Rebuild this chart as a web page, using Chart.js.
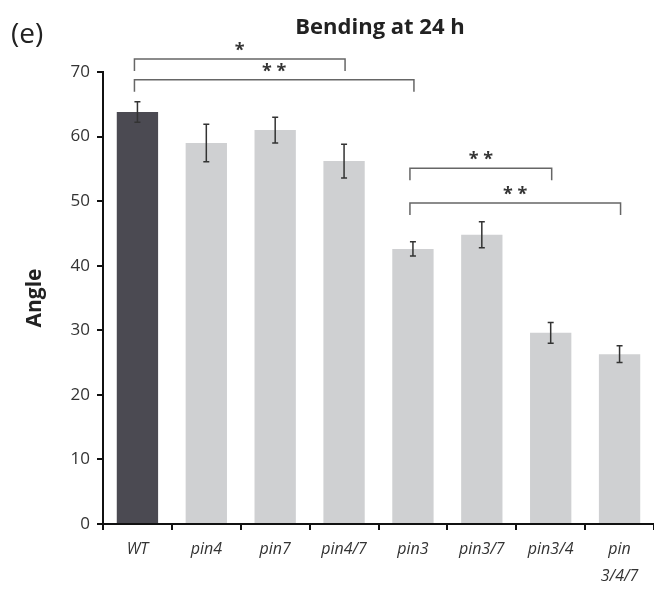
<!DOCTYPE html>
<html>
<head>
<meta charset="utf-8">
<script src="https://cdn.jsdelivr.net/npm/chart.js@4.4.1/dist/chart.umd.min.js"></script>
<style>
  html, body { margin: 0; padding: 0; background: #fff; }
  #wrap { width: 654px; height: 593px; }
</style>
</head>
<body>
<div id="wrap"><canvas id="myChart" width="654" height="593"></canvas></div>
<script>
// data
var genotypes = ['WT', 'pin4', 'pin7', 'pin4/7', 'pin3', 'pin3/7', 'pin3/4', ['pin', '3/4/7']];
var angles = [63.8, 59.0, 61.0, 56.2, 42.6, 44.8, 29.6, 26.3];
var angleErr = [1.6, 2.9, 2.0, 2.6, 1.1, 2.0, 1.6, 1.3];
var yTicks = [0, 10, 20, 30, 40, 50, 60, 70];

// significance brackets (category index from/to, level in angle units)
var bracketFrom = [0, 0, 4, 4];
var bracketTo = [3, 4, 6, 7];
var bracketLevel = [72.0, 68.8, 55.1, 49.7];
var bracketLabel = ['*', '* *', '* *', '* *'];

var barColors = genotypes.map(function (g, i) {
    return i === 0 ? '#4b4a52' : '#cfd0d2';
});

var extras = {
    id: 'extras',
    afterDatasetsDraw: function (chart) {
        var ctx = chart.ctx;
        var x = chart.scales.x;
        var y = chart.scales.y;
        var meta = chart.getDatasetMeta(0);

        // error bars
        ctx.save();
        ctx.strokeStyle = '#333';
        ctx.lineWidth = 1.5;
        for (var i = 0; i < angles.length; i++) {
            var cx = meta.data[i].x;
            var top = y.getPixelForValue(angles[i] + angleErr[i]);
            var bot = y.getPixelForValue(angles[i] - angleErr[i]);
            ctx.beginPath();
            ctx.moveTo(cx, top);
            ctx.lineTo(cx, bot);
            ctx.moveTo(cx - 3, top);
            ctx.lineTo(cx + 3, top);
            ctx.moveTo(cx - 3, bot);
            ctx.lineTo(cx + 3, bot);
            ctx.stroke();
        }

        // brackets
        ctx.strokeStyle = '#666';
        ctx.fillStyle = '#333';
        ctx.lineWidth = 1.5;
        ctx.font = 'bold 18px "Open Sans"';
        ctx.textAlign = 'center';
        ctx.textBaseline = 'middle';
        for (var b = 0; b < bracketFrom.length; b++) {
            var x1 = x.getPixelForValue(bracketFrom[b]) - 3;
            var x2 = x.getPixelForValue(bracketTo[b]) + 1;
            var yy = y.getPixelForValue(bracketLevel[b]);
            ctx.beginPath();
            ctx.moveTo(x1, yy + 12);
            ctx.lineTo(x1, yy);
            ctx.lineTo(x2, yy);
            ctx.lineTo(x2, yy + 12);
            ctx.stroke();
            ctx.fillText(bracketLabel[b], (x1 + x2) / 2, yy - 8);
        }
        ctx.restore();
    },
    afterDraw: function (chart) {
        var ctx = chart.ctx;
        var area = chart.chartArea;
        ctx.save();
        ctx.fillStyle = '#222';
        ctx.textBaseline = 'middle';
        ctx.font = '28px "Open Sans"';
        ctx.textAlign = 'left';
        ctx.fillText('(e)', 11, 35);
        ctx.font = 'bold 22px "Open Sans"';
        ctx.textAlign = 'center';
        ctx.fillText('Bending at 24 h', 380, 28);
        ctx.restore();
    }
};

var ctx = document.getElementById('myChart').getContext('2d');
var myChart = new Chart(ctx, {
    type: 'bar',
    data: {
        labels: genotypes,
        datasets: [{
            data: angles,
            backgroundColor: barColors,
            categoryPercentage: 1,
            barPercentage: 0.6
        }]
    },
    options: {
        responsive: false,
        animation: false,
        layout: { padding: { top: 72, left: 20, right: 0, bottom: 0 } },
        plugins: {
            legend: { display: false },
            tooltip: { enabled: false }
        },
        scales: {
            x: {
                offset: true,
                grid: { offset: true, drawOnChartArea: false, tickLength: 6, color: '#111', lineWidth: 2 },
                border: { color: '#111', width: 2 },
                ticks: {
                    color: '#333',
                    padding: 6,
                    maxRotation: 0,
                    font: { family: 'Open Sans', size: 16, style: 'italic', lineHeight: 1.7 }
                },
                afterFit: function (s) { s.height = 593 - 524; }
            },
            y: {
                min: 0,
                max: 70,
                afterBuildTicks: function (s) {
                    s.ticks = yTicks.map(function (v) { return { value: v }; });
                },
                grid: { drawOnChartArea: false, tickLength: 6, color: '#111', lineWidth: 2 },
                border: { color: '#111', width: 2 },
                ticks: {
                    color: '#333',
                    padding: 7,
                    font: { family: 'Open Sans', size: 17 }
                },
                title: {
                    display: true,
                    text: 'Angle',
                    color: '#222',
                    padding: 2,
                    font: { family: 'Open Sans', size: 21, weight: 'bold' }
                },
                afterFit: function (s) { s.width = 103 - 20; }
            }
        }
    },
    plugins: [extras]
});
</script>
</body>
</html>
